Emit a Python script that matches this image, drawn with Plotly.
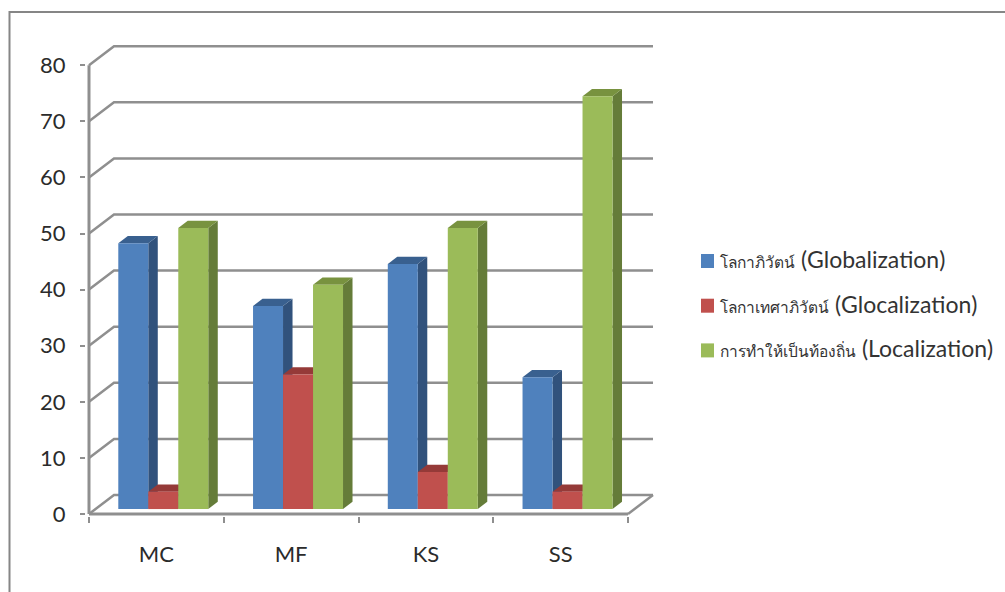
import plotly.graph_objects as go

# Survey scores per group
categories = ["MC", "MF", "KS", "SS"]
globalization = [47.4, 36.2, 43.7, 23.5]
glocalization = [3.1, 24.0, 6.6, 3.1]
localization = [50.1, 40.0, 50.1, 73.6]
y_ticks = [0, 10, 20, 30, 40, 50, 60, 70, 80]

series_thai = ["โลกาภิวัตน์", "โลกาเทศาภิวัตน์", "การทำให้เป็นท้องถิ่น"]
series_latin = ["(Globalization)", "(Glocalization)", "(Localization)"]
front_colors = ["#4F81BD", "#C0504D", "#9BBB59"]
side_colors = ["#31527C", "#7E3533", "#657C39"]
top_colors = ["#39608F", "#953A38", "#78923F"]

GRID = "#8F8F8F"
TEXT = "#2B2B2B"
FONT = "Lato, 'Noto Sans', sans-serif"

# Plot frame in pixels, and the pixel scale of one category / one score unit
W, H = 1005, 592
LEFT, RIGHT, TOP, BOTTOM = 86, 656, 42, 516
ORIGIN_X, ORIGIN_Y = 89, 514
CAT_PX, UNIT_PX = 134.75, 5.61

# Oblique projection: depth t in [0, 1] shifts a point right and up on the chart
DEPTH_X = 25 / CAT_PX
DEPTH_Y = 19 / UNIT_PX
BAR_WIDTH = 0.2226
BAR_T0 = 0.26
BAR_T1 = 0.64
BAR_NUDGE = 0.003


def project(cat, value, t):
    return cat + t * DEPTH_X, value + t * DEPTH_Y


def line_trace(points, width=2.5):
    xs, ys = zip(*[project(*p) for p in points])
    return go.Scatter(x=xs, y=ys, mode="lines", line=dict(color=GRID, width=width),
                      showlegend=False, hoverinfo="skip")


def face(points, color):
    xs, ys = zip(*[project(*p) for p in points + points[:1]])
    return go.Scatter(x=xs, y=ys, mode="lines", fill="toself", fillcolor=color,
                      line=dict(width=0), showlegend=False, hoverinfo="skip")


n = len(categories)
fig = go.Figure()

# Back wall gridlines, each with its diagonal running from the value axis
for v in y_ticks:
    fig.add_trace(line_trace([(0, v, 0), (0, v, 1), (n, v, 1)]))

# Right edge of the floor and the two front axis lines
fig.add_trace(line_trace([(n, 0, 0), (n, 0, 1)]))
fig.add_trace(line_trace([(0, 0, 0), (n, 0, 0)], width=3))
fig.add_trace(line_trace([(0, 0, 0), (0, y_ticks[-1], 0)], width=3))

# Bars, left to right, so each front face covers the neighbour's side face
all_series = [globalization, glocalization, localization]
for c in range(n):
    for s, values in enumerate(all_series):
        v = values[c]
        left = c + 0.5 + BAR_NUDGE + (s - 1.5) * BAR_WIDTH
        right = left + BAR_WIDTH
        fig.add_trace(face([(right, 0, BAR_T0), (right, 0, BAR_T1),
                            (right, v, BAR_T1), (right, v, BAR_T0)], side_colors[s]))
        fig.add_trace(face([(left, v, BAR_T0), (right, v, BAR_T0),
                            (right, v, BAR_T1), (left, v, BAR_T1)], top_colors[s]))
        fig.add_trace(face([(left, 0, BAR_T0), (right, 0, BAR_T0),
                            (right, v, BAR_T0), (left, v, BAR_T0)], front_colors[s]))

# Legend labels; the colour keys sit closer to the text than a legend allows,
# so they are drawn separately below
for thai, latin in zip(series_thai, series_latin):
    label = f'<span style="font-size:15.5px">{thai}</span> {latin}'
    fig.add_trace(go.Scatter(
        x=[None], y=[None], mode="markers", name=label, legendgroup=latin,
        marker=dict(symbol="square", size=14, color="rgba(0,0,0,0)"),
    ))

pw, ph = RIGHT - LEFT, BOTTOM - TOP


def paper_x(px):
    return (px - LEFT) / pw


def paper_y(py):
    return 1 - (py - TOP) / ph


# Outer chart frame, open on the right and at the bottom
fig.add_shape(
    type="path", xref="paper", yref="paper",
    path=(f"M {paper_x(9.5)} {paper_y(592)} L {paper_x(9.5)} {paper_y(12)} "
          f"L {paper_x(1005)} {paper_y(12)}"),
    line=dict(color="#868686", width=2),
)

# Legend colour keys
for row, color in enumerate(front_colors):
    key_top = 254 + row * 44.7
    fig.add_shape(
        type="rect", xref="paper", yref="paper",
        x0=paper_x(701), x1=paper_x(714),
        y0=paper_y(key_top), y1=paper_y(key_top + 14),
        fillcolor=color, line=dict(width=0),
    )

fig.update_layout(
    width=W, height=H,
    margin=dict(l=LEFT, r=W - RIGHT, t=TOP, b=H - BOTTOM, autoexpand=False),
    paper_bgcolor="white", plot_bgcolor="white",
    font=dict(family=FONT, size=22, color=TEXT),
    xaxis=dict(
        range=[(LEFT - ORIGIN_X) / CAT_PX, (RIGHT - ORIGIN_X) / CAT_PX],
        tickvals=[c + 0.5 for c in range(n)], ticktext=categories, ticks="",
        showgrid=False, zeroline=False, showline=False, ticklabelstandoff=23,
        minor=dict(tickvals=list(range(n + 1)), ticks="outside",
                   ticklen=6, tickwidth=2, tickcolor=GRID, showgrid=False),
        tickfont=dict(size=22, color=TEXT),
    ),
    yaxis=dict(
        range=[(ORIGIN_Y - BOTTOM) / UNIT_PX, (ORIGIN_Y - TOP) / UNIT_PX],
        tickvals=y_ticks, ticks="outside", ticklen=5, tickwidth=2,
        tickcolor=GRID, showgrid=False, zeroline=False, showline=False,
        ticklabelstandoff=10, tickfont=dict(size=22, color=TEXT),
    ),
    legend=dict(
        x=paper_x(688), xanchor="left", y=paper_y(238), yanchor="top",
        font=dict(family=FONT, size=23, color="#333333"),
        tracegroupgap=11.5, indentation=-8, bgcolor="rgba(0,0,0,0)",
        itemclick=False, itemdoubleclick=False,
    ),
)

fig.write_html("out.html")
